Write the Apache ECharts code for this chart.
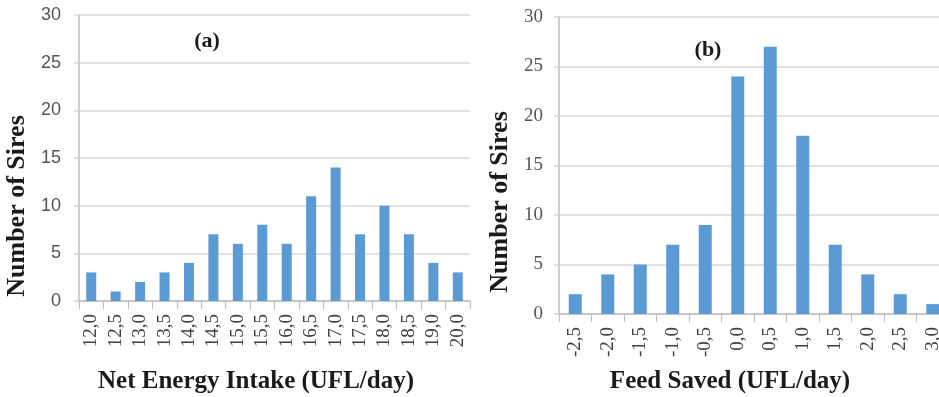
<!DOCTYPE html>
<html>
<head>
<meta charset="utf-8">
<script src="https://cdn.jsdelivr.net/npm/echarts@6/dist/echarts.min.js"></script>
<style>
  html, body { margin: 0; padding: 0; background: #ffffff; }
  #chart { width: 939px; height: 397px; }
</style>
</head>
<body>
<div id="chart"></div>
<script>
// Panel (a): net energy intake classes and sire counts
const intakeClasses = ['12,0','12,5','13,0','13,5','14,0','14,5','15,0','15,5','16,0','16,5','17,0','17,5','18,0','18,5','19,0','20,0'];
const intakeCounts  = [3, 1, 2, 3, 4, 7, 6, 8, 6, 11, 14, 7, 10, 7, 4, 3];

// Panel (b): feed saved classes and sire counts
const savedClasses = ['-2,5','-2,0','-1,5','-1,0','-0,5','0,0','0,5','1,0','1,5','2,0','2,5','3,0'];
const savedCounts  = [2, 4, 5, 7, 9, 24, 27, 18, 7, 4, 2, 1];

// Shared count axis ticks
const countMin = 0, countMax = 30, countStep = 5;

const BAR = '#5B9BD5';
const GRID_LINE = '#d9d9d9';
const AXIS_LINE = '#bfbfbf';
const SERIF = '"Liberation Serif", "Times New Roman", serif';
const SANS = '"Liberation Sans", Arial, sans-serif';

function countAxis(gridIndex, labelFont, labelSize, margin) {
  return {
    type: 'value', gridIndex,
    min: countMin, max: countMax, interval: countStep,
    axisLine: { show: true, lineStyle: { color: AXIS_LINE, width: 1.5 } },
    axisTick: { show: true, length: 5, lineStyle: { color: GRID_LINE, width: 1.5 } },
    splitLine: { show: true, lineStyle: { color: GRID_LINE, width: 1.6 } },
    axisLabel: { color: '#555555', fontFamily: labelFont, fontSize: labelSize, margin }
  };
}

function classAxis(gridIndex, data) {
  return {
    type: 'category', gridIndex, data,
    boundaryGap: true,
    axisLine: { show: true, lineStyle: { color: AXIS_LINE, width: 1.5 } },
    axisTick: { show: true, alignWithLabel: false, length: 8, lineStyle: { color: AXIS_LINE, width: 1.2 } },
    axisLabel: { rotate: 90, interval: 0, color: '#404040', fontFamily: SERIF, fontSize: 19, margin: 13 }
  };
}

const chart = echarts.init(document.getElementById('chart'), null, { renderer: 'canvas' });

chart.setOption({
  animation: false,
  backgroundColor: '#ffffff',
  grid: [
    { left: 79, width: 391, top: 15, height: 286, containLabel: false, outerBoundsMode: 'none' },
    { left: 559, width: 390, top: 17, height: 297, containLabel: false, outerBoundsMode: 'none' }
  ],
  xAxis: [classAxis(0, intakeClasses), classAxis(1, savedClasses)],
  yAxis: [countAxis(0, SANS, 18, 18), countAxis(1, SERIF, 19, 16)],
  series: [
    { type: 'bar', xAxisIndex: 0, yAxisIndex: 0, data: intakeCounts, barWidth: 10, itemStyle: { color: BAR } },
    { type: 'bar', xAxisIndex: 1, yAxisIndex: 1, data: savedCounts, barWidth: 13, itemStyle: { color: BAR } }
  ],
  graphic: [
    { type: 'text', x: 207, y: 41, style: { text: '(a)', font: 'bold 22px ' + SERIF, fill: '#1a1a1a', textAlign: 'center', textVerticalAlign: 'middle' } },
    { type: 'text', x: 708, y: 50, style: { text: '(b)', font: 'bold 22px ' + SERIF, fill: '#1a1a1a', textAlign: 'center', textVerticalAlign: 'middle' } },
    { type: 'text', x: 17, y: 206, rotation: Math.PI / 2, style: { text: 'Number of Sires', font: 'bold 26px ' + SERIF, fill: '#1a1a1a', textAlign: 'center', textVerticalAlign: 'middle' } },
    { type: 'text', x: 500, y: 202, rotation: Math.PI / 2, style: { text: 'Number of Sires', font: 'bold 26px ' + SERIF, fill: '#1a1a1a', textAlign: 'center', textVerticalAlign: 'middle' } },
    { type: 'text', x: 256, y: 382, style: { text: 'Net Energy Intake (UFL/day)', font: 'bold 25px ' + SERIF, fill: '#1a1a1a', textAlign: 'center', textVerticalAlign: 'middle' } },
    { type: 'text', x: 730, y: 382, style: { text: 'Feed Saved (UFL/day)', font: 'bold 25px ' + SERIF, fill: '#1a1a1a', textAlign: 'center', textVerticalAlign: 'middle' } }
  ]
});
</script>
</body>
</html>
